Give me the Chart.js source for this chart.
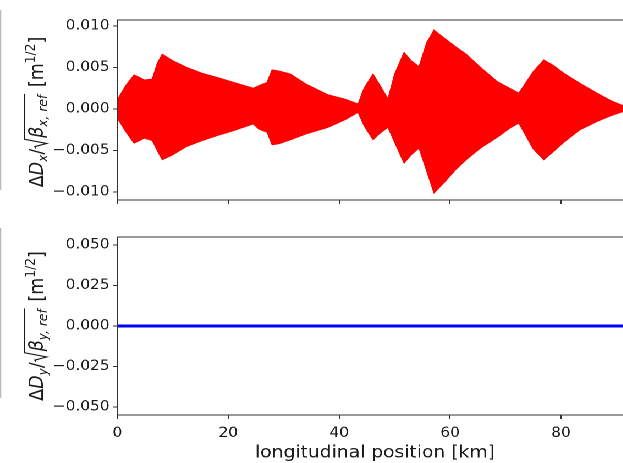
<!DOCTYPE html>
<html>
<head>
<meta charset="utf-8">
<script src="https://cdn.jsdelivr.net/npm/chart.js@4.4.0/dist/chart.umd.min.js"></script>
<style>
  html, body { margin: 0; padding: 0; background: #fff; overflow: hidden; }
  /* the reference figure is a bit wider than tall, so stretch it the same way */
  #fig { position: absolute; left: 0; top: 0; width: 575px; height: 465px; transform: scaleX(1.1); transform-origin: 0 0; }
  #top, #bottom { position: absolute; left: 0; }
  #top { top: 0; }
  #bottom { top: 217px; }
  .edge { position: absolute; left: 0; width: 1px; background: #b8b8b8; }
</style>
</head>
<body>
<div id="fig">
  <div class="edge" style="top:10px;height:180px"></div>
  <div class="edge" style="top:228px;height:170px"></div>
  <canvas id="top" width="575" height="205"></canvas>
  <canvas id="bottom" width="575" height="248"></canvas>
</div>
<script>
// envelope of the horizontal dispersion beat (km, m^1/2)
const kmX = [0, 1.5, 3.0, 4.0, 4.8, 6.3, 7.2, 8.1, 10, 12.5, 15.3, 18, 21, 24.5, 25.5,
  27.0, 27.9, 29, 31.2, 34, 38.0, 41, 43.4, 44.5, 46.1, 47.2, 48.8, 50, 51.7, 53,
  54.4, 55.8, 57.1, 59, 61, 62.9, 65.5, 68.5, 71, 72.4, 73.5, 75, 76.9, 78.5, 80.5,
  83.4, 86.5, 89, 91.2];
const dxUpper = [0.0011, 0.0028, 0.0041, 0.0038, 0.0035, 0.0036, 0.0055, 0.0066, 0.0058, 0.0050,
  0.0043, 0.0038, 0.0032, 0.0025, 0.0028, 0.0032, 0.0047, 0.0046, 0.0042, 0.0030,
  0.0017, 0.0012, 0.0006, 0.0025, 0.0042, 0.0030, 0.0012, 0.0042, 0.0068, 0.0058,
  0.0051, 0.0080, 0.0095, 0.0085, 0.0075, 0.0066, 0.0050, 0.0033, 0.0024, 0.0019,
  0.0030, 0.0045, 0.0059, 0.0053, 0.0043, 0.0031, 0.0019, 0.0010, 0.0004];
const dxLower = [-0.0011, -0.0027, -0.0041, -0.0038, -0.0035, -0.0038, -0.0050, -0.0061, -0.0055, -0.0045,
  -0.0038, -0.0032, -0.0026, -0.0018, -0.0024, -0.0028, -0.0043, -0.0042, -0.0037, -0.0030,
  -0.0022, -0.0013, -0.0004, -0.0020, -0.0037, -0.0030, -0.0022, -0.0040, -0.0065, -0.0055,
  -0.0047, -0.0075, -0.0101, -0.0088, -0.0073, -0.0061, -0.0047, -0.0034, -0.0022, -0.0017,
  -0.0030, -0.0048, -0.0061, -0.0052, -0.0040, -0.0025, -0.0015, -0.0008, -0.0003];

// vertical dispersion is zero everywhere
const kmY = [0, 91.2];
const dyValues = [0, 0];

const xTicks = [0, 20, 40, 60, 80];
const dxTicks = [-0.01, -0.005, 0, 0.005, 0.01];
const dyTicks = [-0.05, -0.025, 0, 0.025, 0.05];

const FAMILY = '"DejaVu Sans"';
const ink = '#1a1a1a';
const spine = '#333333';
const xMax = 92.9;

const fmt3 = v => (v < 0 ? '\u2212' : '') + Math.abs(v).toFixed(3);
const pts = (xs, ys) => xs.map((x, i) => ({ x: x, y: ys[i] }));

// matplotlib-like box around the axes
const frame = {
  id: 'frame',
  afterDraw(chart) {
    const a = chart.chartArea, ctx = chart.ctx;
    ctx.save();
    ctx.strokeStyle = spine;
    ctx.lineWidth = 1;
    ctx.strokeRect(a.left, a.top, a.right - a.left, a.bottom - a.top);
    ctx.restore();
  }
};

// rotated y label with sub/superscripts and a square root
const mathLabel = {
  id: 'mathLabel',
  afterDraw(chart, args, opts) {
    const ctx = chart.ctx, f = opts.size;
    const a = chart.chartArea;
    const font = (s, it) => (it ? 'italic ' : '') + s + 'px ' + FAMILY;
    let total = 0;
    const items = opts.parts.map(p => {
      if (p.root) {
        const w = p.root === 'open' ? 0.62 * f : 0.12 * f;
        total += w;
        return { root: p.root, w: w };
      }
      const s = (p.sub || p.sup) ? 0.7 * f : f;
      ctx.font = font(s, p.it);
      const w = ctx.measureText(p.t).width;
      total += w;
      return { t: p.t, s: s, it: p.it, dy: p.sub ? 0.24 * f : p.sup ? -0.42 * f : 0, w: w };
    });
    ctx.save();
    ctx.translate(opts.x, (a.top + a.bottom) / 2 + (opts.dy || 0));
    ctx.rotate(-Math.PI / 2);
    ctx.fillStyle = ink;
    ctx.strokeStyle = ink;
    ctx.textBaseline = 'alphabetic';
    let u = -total / 2, rootStart = 0;
    items.forEach(it => {
      if (it.root === 'open') {
        rootStart = u;
      } else if (it.root === 'close') {
        ctx.lineWidth = 0.065 * f;
        ctx.beginPath();
        ctx.moveTo(rootStart + 0.02 * f, -0.36 * f);
        ctx.lineTo(rootStart + 0.12 * f, -0.42 * f);
        ctx.lineTo(rootStart + 0.3 * f, 0.2 * f);
        ctx.lineTo(rootStart + 0.54 * f, -0.95 * f);
        ctx.lineTo(u + 0.05 * f, -0.95 * f);
        ctx.stroke();
      } else {
        ctx.font = font(it.s, it.it);
        ctx.fillText(it.t, u, it.dy);
      }
      u += it.w;
    });
    ctx.restore();
  }
};

function fitY(w) {
  return s => { s.width = w; s.paddingTop = s.paddingBottom = s.paddingLeft = s.paddingRight = 0; };
}
function fitX(h) {
  return s => { s.height = h; s.paddingTop = s.paddingBottom = s.paddingLeft = s.paddingRight = 0; };
}

function labelParts(axis) {
  return [
    { t: '\u0394' }, { t: 'D', it: true }, { t: axis, it: true, sub: true }, { t: '/' },
    { root: 'open' }, { t: '\u03b2', it: true }, { t: axis + ', ref', it: true, sub: true }, { root: 'close' },
    { t: ' [m' }, { t: '1/2', sup: true }, { t: ']' }
  ];
}

function xScale(showLabels, h) {
  return {
    type: 'linear', min: 0, max: xMax,
    afterBuildTicks: s => { s.ticks = xTicks.map(v => ({ value: v })); },
    afterFit: fitX(h),
    grid: { drawOnChartArea: false, drawTicks: true, tickLength: 4, color: spine, lineWidth: 1 },
    border: { display: false },
    ticks: { display: showLabels, font: { family: FAMILY, size: 14 }, color: ink, padding: 6, maxRotation: 0, autoSkip: false },
    title: {
      display: showLabels, text: 'longitudinal position [km]',
      font: { family: FAMILY, size: 17 }, color: ink, padding: { top: 0, bottom: 1.5 }
    }
  };
}

function yScale(min, max, ticks) {
  return {
    min: min, max: max,
    afterBuildTicks: s => { s.ticks = ticks.map(v => ({ value: v })); },
    afterFit: fitY(106.7),
    grid: { drawOnChartArea: false, drawTicks: true, tickLength: 4, color: spine, lineWidth: 1 },
    border: { display: false },
    ticks: { font: { family: FAMILY, size: 14 }, color: ink, padding: 3, callback: fmt3, autoSkip: false }
  };
}

const common = {
  responsive: false,
  animation: false,
  devicePixelRatio: 2,
  elements: { point: { radius: 0 }, line: { tension: 0 } },
  plugins: { legend: { display: false }, tooltip: { enabled: false } }
};

new Chart(document.getElementById('top'), {
  type: 'line',
  data: {
    datasets: [
      { data: pts(kmX, dxUpper), borderColor: '#ff0000', borderWidth: 1, fill: false },
      { data: pts(kmX, dxLower), borderColor: '#ff0000', borderWidth: 1, backgroundColor: '#ff0000', fill: '-1' }
    ]
  },
  options: Object.assign({}, common, {
    layout: { padding: { top: 20, left: 0, right: 0, bottom: 0 } },
    scales: { x: xScale(false, 5), y: yScale(-0.01096, 0.01072, dxTicks) },
    plugins: Object.assign({}, common.plugins, {
      mathLabel: { parts: labelParts('x'), size: 17.5, x: 39, dy: 2 }
    })
  }),
  plugins: [frame, mathLabel]
});

new Chart(document.getElementById('bottom'), {
  type: 'line',
  data: {
    datasets: [
      { data: pts(kmY, dyValues), borderColor: '#0000ff', borderWidth: 3, fill: false }
    ]
  },
  options: Object.assign({}, common, {
    layout: { padding: { top: 20, left: 0, right: 0, bottom: 0 } },
    scales: { x: xScale(true, 50), y: yScale(-0.055, 0.055, dyTicks) },
    plugins: Object.assign({}, common.plugins, {
      mathLabel: { parts: labelParts('y'), size: 17.5, x: 39 }
    })
  }),
  plugins: [frame, mathLabel]
});
</script>
</body>
</html>
